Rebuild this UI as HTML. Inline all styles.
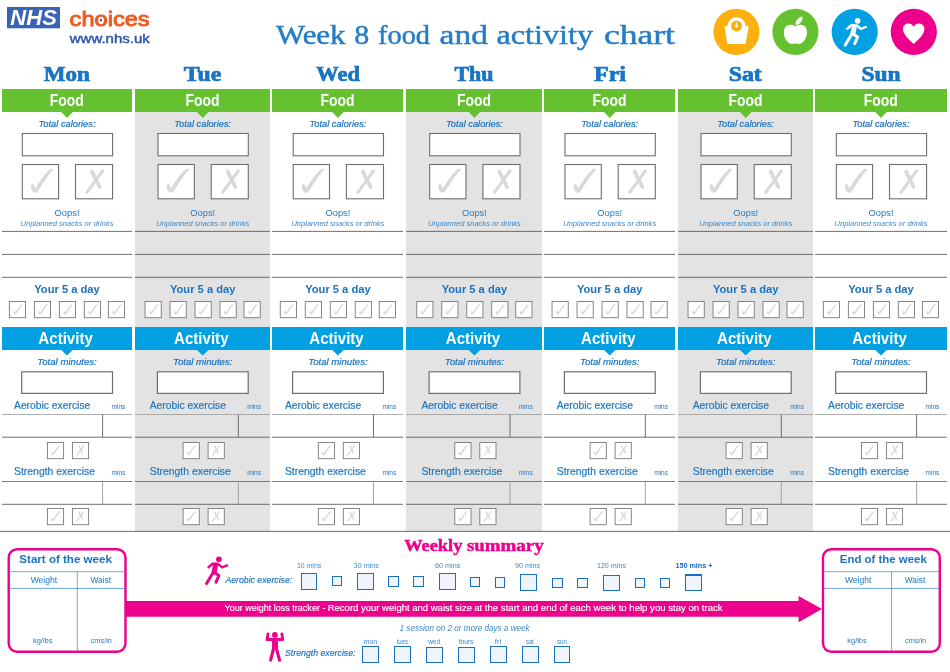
<!DOCTYPE html>
<html lang="en">
<head>
<meta charset="utf-8">
<title>Week 8 food and activity chart</title>
<style>
html,body{margin:0;padding:0;background:#fff;}
body{width:950px;height:672px;overflow:hidden;font-family:"Liberation Sans",sans-serif;}
svg{display:block;will-change:transform;}
</style>
</head>
<body>
<svg width="950" height="672" viewBox="0 0 950 672">
<defs>
<path id="tick" fill="#d9d9d9" d="M9.4 21 C8.6 22.6 9.6 26.6 11.6 28.3 C13 29.3 15 28.7 16.2 27 C20.5 20.5 26 11.5 31.9 5 C30 4.5 28.4 5 27 6.2 C22 11 17 18.6 13.7 24.3 C13.1 22.8 12.5 21.2 11.7 20.4 C10.9 19.8 9.8 20.2 9.4 21 Z"/>
<g id="cross" fill="none" stroke="#d9d9d9" stroke-linecap="round"><path d="M17 7.6 L24.6 23" stroke-width="3.7"/><path d="M27.6 6.8 L12 28.4" stroke-width="3.1"/></g>
<g id="runner" fill="none" stroke="currentColor" stroke-linecap="round" stroke-linejoin="round"><circle cx="857.6" cy="20.8" r="2.85" fill="currentColor" stroke="none"/><path d="M854.3 26.4 L852.9 33.4" stroke-width="5.1"/><path d="M851.6 25 L847.2 28.8" stroke-width="2.4"/><path d="M856.8 25.4 L860.7 28.9 L865.8 27" stroke-width="2.4"/><path d="M851.9 34 L845.2 45.1" stroke-width="3"/><path d="M853.6 34.4 L857.7 37 L854.7 43.7" stroke-width="3"/></g>
</defs>
<rect x="7" y="7" width="53" height="21.3" fill="#3963b5"/>
<text x="33.6" y="25.3" font-family="Liberation Sans" font-size="22" fill="#fff" text-anchor="middle" font-weight="bold" font-style="italic" textLength="46.5" lengthAdjust="spacingAndGlyphs">NHS</text>
<text x="69.6" y="25.5" font-family="Liberation Sans" font-size="21" fill="#f1591f" text-anchor="start" textLength="80" lengthAdjust="spacingAndGlyphs" stroke="#f1591f" stroke-width="0.9">choices</text>
<circle cx="101" cy="20.2" r="1.1" fill="#a0122a"/>
<text x="69.8" y="43.4" font-family="Liberation Sans" font-size="13" fill="#2c57a7" text-anchor="start" textLength="80" lengthAdjust="spacingAndGlyphs" stroke="#2c57a7" stroke-width="0.45">www.nhs.uk</text>
<text x="276" y="44.2" font-family="Liberation Serif" font-size="26.5" fill="#257cc6" text-anchor="start" textLength="69.5" lengthAdjust="spacingAndGlyphs" stroke="#257cc6" stroke-width="0.45">Week</text>
<text x="354.2" y="44.2" font-family="Liberation Serif" font-size="26.5" fill="#257cc6" text-anchor="start" textLength="15" lengthAdjust="spacingAndGlyphs" stroke="#257cc6" stroke-width="0.45">8</text>
<text x="378" y="44.2" font-family="Liberation Serif" font-size="26.5" fill="#257cc6" text-anchor="start" textLength="52" lengthAdjust="spacingAndGlyphs" stroke="#257cc6" stroke-width="0.45">food</text>
<text x="439.6" y="44.2" font-family="Liberation Serif" font-size="26.5" fill="#257cc6" text-anchor="start" textLength="48.3" lengthAdjust="spacingAndGlyphs" stroke="#257cc6" stroke-width="0.45">and</text>
<text x="496.6" y="44.2" font-family="Liberation Serif" font-size="26.5" fill="#257cc6" text-anchor="start" textLength="96.4" lengthAdjust="spacingAndGlyphs" stroke="#257cc6" stroke-width="0.45">activity</text>
<text x="604" y="44.2" font-family="Liberation Serif" font-size="26.5" fill="#257cc6" text-anchor="start" textLength="71" lengthAdjust="spacingAndGlyphs" stroke="#257cc6" stroke-width="0.45">chart</text>
<circle cx="736.4" cy="31.8" r="23.1" fill="#fbb00f"/>
<circle cx="795.4" cy="31.8" r="23.1" fill="#65c12f"/>
<circle cx="854.7" cy="31.8" r="23.1" fill="#00a0e3"/>
<circle cx="913.8" cy="31.8" r="23.1" fill="#ec008c"/>
<circle cx="736.55" cy="25.9" r="8.85" fill="#fff"/>
<path fill="#fff" stroke="#fff" stroke-width="2.4" stroke-linejoin="round" d="M725.9 27 L747.3 27 L744.6 42.8 L728.4 42.8 Z"/>
<circle cx="736.5" cy="25.9" r="5.5" fill="#fbb00f"/>
<path fill="#fff" d="M736.5 21.6 L737.6 25.6 A1.35 1.35 0 1 1 735.4 25.6 Z"/>
<path fill="#fff" d="M795.4 26.6 C792.5 24.2 787.2 24 785 27.6 C782.4 31.8 784.2 39.4 788.6 42.8 C790.8 44.5 793.4 44.3 795.4 43.3 C797.4 44.3 800 44.5 802.2 42.8 C806.6 39.4 808.4 31.8 805.8 27.6 C803.6 24 798.3 24.2 795.4 26.6 Z"/>
<path fill="#fff" d="M795.6 25.2 C795 21.5 798 17.5 802.4 16.6 C803 20.6 800.2 24.6 795.6 25.2 Z"/>
<use href="#runner" color="#fff"/>
<path fill="#fff" d="M913.7 44 C908 38.6 903 34 903 29.2 C903 25.6 905.6 23.5 908.4 23.5 C910.6 23.5 912.6 24.7 913.7 26.8 C914.8 24.7 916.8 23.5 919 23.5 C921.8 23.5 924.4 25.6 924.4 29.2 C924.4 34 919.4 38.6 913.7 44 Z"/>
<text x="66.7" y="80.9" font-family="Liberation Serif" font-size="20" fill="#1874c4" text-anchor="middle" font-weight="bold" textLength="46" lengthAdjust="spacingAndGlyphs" stroke="#1874c4" stroke-width="0.7">Mon</text>
<rect x="2" y="89" width="130" height="23" fill="#65c12f"/>
<path d="M61 111.8 L73 111.8 L67 118 Z" fill="#65c12f"/>
<text x="66.7" y="106" font-family="Liberation Sans" font-size="16.8" fill="#fff" text-anchor="middle" font-weight="bold" textLength="34" lengthAdjust="spacingAndGlyphs">Food</text>
<text x="67" y="127" font-family="Liberation Sans" font-size="9" fill="#1a72c0" text-anchor="middle" font-style="italic" textLength="57" lengthAdjust="spacingAndGlyphs" stroke="#1a72c0" stroke-width="0.2">Total calories:</text>
<rect x="22.299999999999997" y="133.5" width="90.3" height="22.3" fill="#fff" stroke="#6e6e6e" stroke-width="1.1"/>
<rect x="22.299999999999997" y="164.5" width="36.3" height="34.3" fill="#fff" stroke="#6e6e6e" stroke-width="1.1"/>
<rect x="75.5" y="164.5" width="37.1" height="34.3" fill="#fff" stroke="#6e6e6e" stroke-width="1.1"/>
<use href="#tick" transform="translate(21.799999999999997 164) scale(1)"/>
<use href="#cross" transform="translate(75 164) scale(1)"/>
<text x="67" y="216" font-family="Liberation Sans" font-size="9" fill="#1f78c1" text-anchor="middle" textLength="25" lengthAdjust="spacingAndGlyphs">Oops!</text>
<text x="67" y="225.6" font-family="Liberation Sans" font-size="7.3" fill="#3b87c9" text-anchor="middle" font-style="italic" textLength="93" lengthAdjust="spacingAndGlyphs">Unplanned snacks or drinks</text>
<line x1="2" y1="231.4" x2="132" y2="231.4" stroke="#5f5f5f" stroke-width="0.9"/>
<line x1="2" y1="254.4" x2="132" y2="254.4" stroke="#5f5f5f" stroke-width="0.9"/>
<line x1="2" y1="277.3" x2="132" y2="277.3" stroke="#5f5f5f" stroke-width="0.9"/>
<text x="67" y="292.9" font-family="Liberation Sans" font-size="10.8" fill="#1b72c0" text-anchor="middle" font-weight="bold" textLength="65.5" lengthAdjust="spacingAndGlyphs">Your 5 a day</text>
<rect x="9.350000000000003" y="301.5" width="16.2" height="16.2" fill="#fff" stroke="#7a7a7a" stroke-width="0.9"/>
<use href="#tick" transform="translate(9.500000000000002 302.35) scale(0.42)"/>
<rect x="34.35" y="301.5" width="16.2" height="16.2" fill="#fff" stroke="#7a7a7a" stroke-width="0.9"/>
<use href="#tick" transform="translate(34.50000000000001 302.35) scale(0.42)"/>
<rect x="59.35" y="301.5" width="16.2" height="16.2" fill="#fff" stroke="#7a7a7a" stroke-width="0.9"/>
<use href="#tick" transform="translate(59.50000000000001 302.35) scale(0.42)"/>
<rect x="84.30000000000001" y="301.5" width="16.2" height="16.2" fill="#fff" stroke="#7a7a7a" stroke-width="0.9"/>
<use href="#tick" transform="translate(84.45 302.35) scale(0.42)"/>
<rect x="108.35000000000001" y="301.5" width="16.2" height="16.2" fill="#fff" stroke="#7a7a7a" stroke-width="0.9"/>
<use href="#tick" transform="translate(108.5 302.35) scale(0.42)"/>
<rect x="2" y="327" width="130" height="23" fill="#00a0e3"/>
<path d="M61 349.8 L73 349.8 L67 355.4 Z" fill="#00a0e3"/>
<text x="65.6" y="344" font-family="Liberation Sans" font-size="17" fill="#fff" text-anchor="middle" font-weight="bold" textLength="54.5" lengthAdjust="spacingAndGlyphs">Activity</text>
<text x="67" y="364.6" font-family="Liberation Sans" font-size="9" fill="#1a72c0" text-anchor="middle" font-style="italic" textLength="59.5" lengthAdjust="spacingAndGlyphs" stroke="#1a72c0" stroke-width="0.2">Total minutes:</text>
<rect x="21.700000000000003" y="371.8" width="90.8" height="21.6" fill="#fff" stroke="#6e6e6e" stroke-width="1.2"/>
<text x="14" y="409" font-family="Liberation Sans" font-size="10.2" fill="#1f78c1" text-anchor="start" textLength="76.3" lengthAdjust="spacingAndGlyphs" stroke="#1f78c1" stroke-width="0.2">Aerobic exercise</text>
<text x="111.5" y="409" font-family="Liberation Sans" font-size="6.4" fill="#1f78c1" text-anchor="start" textLength="13.8" lengthAdjust="spacingAndGlyphs">mins</text>
<line x1="2" y1="414.5" x2="132" y2="414.5" stroke="#9a9a9a" stroke-width="0.8"/>
<line x1="2" y1="437.2" x2="132" y2="437.2" stroke="#5f5f5f" stroke-width="0.9"/>
<line x1="102.6" y1="414.5" x2="102.6" y2="437.2" stroke="#5f5f5f" stroke-width="0.9"/>
<rect x="47.4" y="442.5" width="16.2" height="16.2" fill="#fff" stroke="#7a7a7a" stroke-width="0.9"/>
<rect x="72.4" y="442.5" width="16.2" height="16.2" fill="#fff" stroke="#7a7a7a" stroke-width="0.9"/>
<use href="#tick" transform="translate(47.25 443.25) scale(0.42)"/>
<use href="#cross" transform="translate(71.75 442.95) scale(0.43)"/>
<text x="14" y="475.3" font-family="Liberation Sans" font-size="10.2" fill="#1f78c1" text-anchor="start" textLength="81" lengthAdjust="spacingAndGlyphs" stroke="#1f78c1" stroke-width="0.2">Strength exercise</text>
<text x="111.5" y="475.3" font-family="Liberation Sans" font-size="6.4" fill="#1f78c1" text-anchor="start" textLength="13.8" lengthAdjust="spacingAndGlyphs">mins</text>
<line x1="2" y1="481.5" x2="132" y2="481.5" stroke="#5f5f5f" stroke-width="0.8"/>
<line x1="2" y1="504.3" x2="132" y2="504.3" stroke="#5f5f5f" stroke-width="0.9"/>
<line x1="102.6" y1="481.5" x2="102.6" y2="504.3" stroke="#9a9a9a" stroke-width="0.9"/>
<rect x="47.4" y="508.5" width="16.2" height="16.2" fill="#fff" stroke="#7a7a7a" stroke-width="0.9"/>
<rect x="72.4" y="508.5" width="16.2" height="16.2" fill="#fff" stroke="#7a7a7a" stroke-width="0.9"/>
<use href="#tick" transform="translate(47.25 509.25) scale(0.42)"/>
<use href="#cross" transform="translate(71.75 508.95) scale(0.43)"/>
<rect x="135" y="112" width="135" height="419" fill="#e3e3e3"/>
<text x="202.5" y="80.9" font-family="Liberation Serif" font-size="20" fill="#1874c4" text-anchor="middle" font-weight="bold" textLength="37.5" lengthAdjust="spacingAndGlyphs" stroke="#1874c4" stroke-width="0.7">Tue</text>
<rect x="135" y="89" width="135" height="23" fill="#65c12f"/>
<path d="M196.7 111.8 L208.7 111.8 L202.7 118 Z" fill="#65c12f"/>
<text x="202.39999999999998" y="106" font-family="Liberation Sans" font-size="16.8" fill="#fff" text-anchor="middle" font-weight="bold" textLength="34" lengthAdjust="spacingAndGlyphs">Food</text>
<text x="202.7" y="127" font-family="Liberation Sans" font-size="9" fill="#1a72c0" text-anchor="middle" font-style="italic" textLength="57" lengthAdjust="spacingAndGlyphs" stroke="#1a72c0" stroke-width="0.2">Total calories:</text>
<rect x="158.0" y="133.5" width="90.3" height="22.3" fill="#fff" stroke="#6e6e6e" stroke-width="1.1"/>
<rect x="158.0" y="164.5" width="36.3" height="34.3" fill="#fff" stroke="#6e6e6e" stroke-width="1.1"/>
<rect x="211.2" y="164.5" width="37.1" height="34.3" fill="#fff" stroke="#6e6e6e" stroke-width="1.1"/>
<use href="#tick" transform="translate(157.5 164) scale(1)"/>
<use href="#cross" transform="translate(210.7 164) scale(1)"/>
<text x="202.7" y="216" font-family="Liberation Sans" font-size="9" fill="#1f78c1" text-anchor="middle" textLength="25" lengthAdjust="spacingAndGlyphs">Oops!</text>
<text x="202.7" y="225.6" font-family="Liberation Sans" font-size="7.3" fill="#3b87c9" text-anchor="middle" font-style="italic" textLength="93" lengthAdjust="spacingAndGlyphs">Unplanned snacks or drinks</text>
<line x1="135" y1="231.4" x2="270" y2="231.4" stroke="#5f5f5f" stroke-width="0.9"/>
<line x1="135" y1="254.4" x2="270" y2="254.4" stroke="#5f5f5f" stroke-width="0.9"/>
<line x1="135" y1="277.3" x2="270" y2="277.3" stroke="#5f5f5f" stroke-width="0.9"/>
<text x="202.7" y="292.9" font-family="Liberation Sans" font-size="10.8" fill="#1b72c0" text-anchor="middle" font-weight="bold" textLength="65.5" lengthAdjust="spacingAndGlyphs">Your 5 a day</text>
<rect x="145.04999999999998" y="301.5" width="16.2" height="16.2" fill="#fff" stroke="#7a7a7a" stroke-width="0.9"/>
<use href="#tick" transform="translate(145.19999999999996 302.35) scale(0.42)"/>
<rect x="170.04999999999998" y="301.5" width="16.2" height="16.2" fill="#fff" stroke="#7a7a7a" stroke-width="0.9"/>
<use href="#tick" transform="translate(170.19999999999996 302.35) scale(0.42)"/>
<rect x="195.04999999999998" y="301.5" width="16.2" height="16.2" fill="#fff" stroke="#7a7a7a" stroke-width="0.9"/>
<use href="#tick" transform="translate(195.19999999999996 302.35) scale(0.42)"/>
<rect x="220.0" y="301.5" width="16.2" height="16.2" fill="#fff" stroke="#7a7a7a" stroke-width="0.9"/>
<use href="#tick" transform="translate(220.14999999999998 302.35) scale(0.42)"/>
<rect x="244.04999999999998" y="301.5" width="16.2" height="16.2" fill="#fff" stroke="#7a7a7a" stroke-width="0.9"/>
<use href="#tick" transform="translate(244.19999999999996 302.35) scale(0.42)"/>
<rect x="135" y="327" width="135" height="23" fill="#00a0e3"/>
<path d="M196.7 349.8 L208.7 349.8 L202.7 355.4 Z" fill="#00a0e3"/>
<text x="201.29999999999998" y="344" font-family="Liberation Sans" font-size="17" fill="#fff" text-anchor="middle" font-weight="bold" textLength="54.5" lengthAdjust="spacingAndGlyphs">Activity</text>
<text x="202.7" y="364.6" font-family="Liberation Sans" font-size="9" fill="#1a72c0" text-anchor="middle" font-style="italic" textLength="59.5" lengthAdjust="spacingAndGlyphs" stroke="#1a72c0" stroke-width="0.2">Total minutes:</text>
<rect x="157.39999999999998" y="371.8" width="90.8" height="21.6" fill="#fff" stroke="#6e6e6e" stroke-width="1.2"/>
<text x="149.7" y="409" font-family="Liberation Sans" font-size="10.2" fill="#1f78c1" text-anchor="start" textLength="76.3" lengthAdjust="spacingAndGlyphs" stroke="#1f78c1" stroke-width="0.2">Aerobic exercise</text>
<text x="247.2" y="409" font-family="Liberation Sans" font-size="6.4" fill="#1f78c1" text-anchor="start" textLength="13.8" lengthAdjust="spacingAndGlyphs">mins</text>
<line x1="135" y1="414.5" x2="270" y2="414.5" stroke="#9a9a9a" stroke-width="0.8"/>
<line x1="135" y1="437.2" x2="270" y2="437.2" stroke="#5f5f5f" stroke-width="0.9"/>
<line x1="238.29999999999998" y1="414.5" x2="238.29999999999998" y2="437.2" stroke="#5f5f5f" stroke-width="0.9"/>
<rect x="183.1" y="442.5" width="16.2" height="16.2" fill="#fff" stroke="#7a7a7a" stroke-width="0.9"/>
<rect x="208.1" y="442.5" width="16.2" height="16.2" fill="#fff" stroke="#7a7a7a" stroke-width="0.9"/>
<use href="#tick" transform="translate(182.95 443.25) scale(0.42)"/>
<use href="#cross" transform="translate(207.45 442.95) scale(0.43)"/>
<text x="149.7" y="475.3" font-family="Liberation Sans" font-size="10.2" fill="#1f78c1" text-anchor="start" textLength="81" lengthAdjust="spacingAndGlyphs" stroke="#1f78c1" stroke-width="0.2">Strength exercise</text>
<text x="247.2" y="475.3" font-family="Liberation Sans" font-size="6.4" fill="#1f78c1" text-anchor="start" textLength="13.8" lengthAdjust="spacingAndGlyphs">mins</text>
<line x1="135" y1="481.5" x2="270" y2="481.5" stroke="#5f5f5f" stroke-width="0.8"/>
<line x1="135" y1="504.3" x2="270" y2="504.3" stroke="#5f5f5f" stroke-width="0.9"/>
<line x1="238.29999999999998" y1="481.5" x2="238.29999999999998" y2="504.3" stroke="#9a9a9a" stroke-width="0.9"/>
<rect x="183.1" y="508.5" width="16.2" height="16.2" fill="#fff" stroke="#7a7a7a" stroke-width="0.9"/>
<rect x="208.1" y="508.5" width="16.2" height="16.2" fill="#fff" stroke="#7a7a7a" stroke-width="0.9"/>
<use href="#tick" transform="translate(182.95 509.25) scale(0.42)"/>
<use href="#cross" transform="translate(207.45 508.95) scale(0.43)"/>
<text x="338.1" y="80.9" font-family="Liberation Serif" font-size="20" fill="#1874c4" text-anchor="middle" font-weight="bold" textLength="43.5" lengthAdjust="spacingAndGlyphs" stroke="#1874c4" stroke-width="0.7">Wed</text>
<rect x="272" y="89" width="131" height="23" fill="#65c12f"/>
<path d="M331.9 111.8 L343.9 111.8 L337.9 118 Z" fill="#65c12f"/>
<text x="337.59999999999997" y="106" font-family="Liberation Sans" font-size="16.8" fill="#fff" text-anchor="middle" font-weight="bold" textLength="34" lengthAdjust="spacingAndGlyphs">Food</text>
<text x="337.9" y="127" font-family="Liberation Sans" font-size="9" fill="#1a72c0" text-anchor="middle" font-style="italic" textLength="57" lengthAdjust="spacingAndGlyphs" stroke="#1a72c0" stroke-width="0.2">Total calories:</text>
<rect x="293.2" y="133.5" width="90.3" height="22.3" fill="#fff" stroke="#6e6e6e" stroke-width="1.1"/>
<rect x="293.2" y="164.5" width="36.3" height="34.3" fill="#fff" stroke="#6e6e6e" stroke-width="1.1"/>
<rect x="346.4" y="164.5" width="37.1" height="34.3" fill="#fff" stroke="#6e6e6e" stroke-width="1.1"/>
<use href="#tick" transform="translate(292.7 164) scale(1)"/>
<use href="#cross" transform="translate(345.9 164) scale(1)"/>
<text x="337.9" y="216" font-family="Liberation Sans" font-size="9" fill="#1f78c1" text-anchor="middle" textLength="25" lengthAdjust="spacingAndGlyphs">Oops!</text>
<text x="337.9" y="225.6" font-family="Liberation Sans" font-size="7.3" fill="#3b87c9" text-anchor="middle" font-style="italic" textLength="93" lengthAdjust="spacingAndGlyphs">Unplanned snacks or drinks</text>
<line x1="272" y1="231.4" x2="403" y2="231.4" stroke="#5f5f5f" stroke-width="0.9"/>
<line x1="272" y1="254.4" x2="403" y2="254.4" stroke="#5f5f5f" stroke-width="0.9"/>
<line x1="272" y1="277.3" x2="403" y2="277.3" stroke="#5f5f5f" stroke-width="0.9"/>
<text x="337.9" y="292.9" font-family="Liberation Sans" font-size="10.8" fill="#1b72c0" text-anchor="middle" font-weight="bold" textLength="65.5" lengthAdjust="spacingAndGlyphs">Your 5 a day</text>
<rect x="280.24999999999994" y="301.5" width="16.2" height="16.2" fill="#fff" stroke="#7a7a7a" stroke-width="0.9"/>
<use href="#tick" transform="translate(280.4 302.35) scale(0.42)"/>
<rect x="305.24999999999994" y="301.5" width="16.2" height="16.2" fill="#fff" stroke="#7a7a7a" stroke-width="0.9"/>
<use href="#tick" transform="translate(305.4 302.35) scale(0.42)"/>
<rect x="330.24999999999994" y="301.5" width="16.2" height="16.2" fill="#fff" stroke="#7a7a7a" stroke-width="0.9"/>
<use href="#tick" transform="translate(330.4 302.35) scale(0.42)"/>
<rect x="355.19999999999993" y="301.5" width="16.2" height="16.2" fill="#fff" stroke="#7a7a7a" stroke-width="0.9"/>
<use href="#tick" transform="translate(355.34999999999997 302.35) scale(0.42)"/>
<rect x="379.24999999999994" y="301.5" width="16.2" height="16.2" fill="#fff" stroke="#7a7a7a" stroke-width="0.9"/>
<use href="#tick" transform="translate(379.4 302.35) scale(0.42)"/>
<rect x="272" y="327" width="131" height="23" fill="#00a0e3"/>
<path d="M331.9 349.8 L343.9 349.8 L337.9 355.4 Z" fill="#00a0e3"/>
<text x="336.5" y="344" font-family="Liberation Sans" font-size="17" fill="#fff" text-anchor="middle" font-weight="bold" textLength="54.5" lengthAdjust="spacingAndGlyphs">Activity</text>
<text x="337.9" y="364.6" font-family="Liberation Sans" font-size="9" fill="#1a72c0" text-anchor="middle" font-style="italic" textLength="59.5" lengthAdjust="spacingAndGlyphs" stroke="#1a72c0" stroke-width="0.2">Total minutes:</text>
<rect x="292.59999999999997" y="371.8" width="90.8" height="21.6" fill="#fff" stroke="#6e6e6e" stroke-width="1.2"/>
<text x="284.9" y="409" font-family="Liberation Sans" font-size="10.2" fill="#1f78c1" text-anchor="start" textLength="76.3" lengthAdjust="spacingAndGlyphs" stroke="#1f78c1" stroke-width="0.2">Aerobic exercise</text>
<text x="382.4" y="409" font-family="Liberation Sans" font-size="6.4" fill="#1f78c1" text-anchor="start" textLength="13.8" lengthAdjust="spacingAndGlyphs">mins</text>
<line x1="272" y1="414.5" x2="403" y2="414.5" stroke="#9a9a9a" stroke-width="0.8"/>
<line x1="272" y1="437.2" x2="403" y2="437.2" stroke="#5f5f5f" stroke-width="0.9"/>
<line x1="373.5" y1="414.5" x2="373.5" y2="437.2" stroke="#5f5f5f" stroke-width="0.9"/>
<rect x="318.29999999999995" y="442.5" width="16.2" height="16.2" fill="#fff" stroke="#7a7a7a" stroke-width="0.9"/>
<rect x="343.29999999999995" y="442.5" width="16.2" height="16.2" fill="#fff" stroke="#7a7a7a" stroke-width="0.9"/>
<use href="#tick" transform="translate(318.15 443.25) scale(0.42)"/>
<use href="#cross" transform="translate(342.65 442.95) scale(0.43)"/>
<text x="284.9" y="475.3" font-family="Liberation Sans" font-size="10.2" fill="#1f78c1" text-anchor="start" textLength="81" lengthAdjust="spacingAndGlyphs" stroke="#1f78c1" stroke-width="0.2">Strength exercise</text>
<text x="382.4" y="475.3" font-family="Liberation Sans" font-size="6.4" fill="#1f78c1" text-anchor="start" textLength="13.8" lengthAdjust="spacingAndGlyphs">mins</text>
<line x1="272" y1="481.5" x2="403" y2="481.5" stroke="#5f5f5f" stroke-width="0.8"/>
<line x1="272" y1="504.3" x2="403" y2="504.3" stroke="#5f5f5f" stroke-width="0.9"/>
<line x1="373.5" y1="481.5" x2="373.5" y2="504.3" stroke="#9a9a9a" stroke-width="0.9"/>
<rect x="318.29999999999995" y="508.5" width="16.2" height="16.2" fill="#fff" stroke="#7a7a7a" stroke-width="0.9"/>
<rect x="343.29999999999995" y="508.5" width="16.2" height="16.2" fill="#fff" stroke="#7a7a7a" stroke-width="0.9"/>
<use href="#tick" transform="translate(318.15 509.25) scale(0.42)"/>
<use href="#cross" transform="translate(342.65 508.95) scale(0.43)"/>
<rect x="406" y="112" width="136" height="419" fill="#e3e3e3"/>
<text x="473.9" y="80.9" font-family="Liberation Serif" font-size="20" fill="#1874c4" text-anchor="middle" font-weight="bold" textLength="39" lengthAdjust="spacingAndGlyphs" stroke="#1874c4" stroke-width="0.7">Thu</text>
<rect x="406" y="89" width="136" height="23" fill="#65c12f"/>
<path d="M468.4 111.8 L480.4 111.8 L474.4 118 Z" fill="#65c12f"/>
<text x="474.09999999999997" y="106" font-family="Liberation Sans" font-size="16.8" fill="#fff" text-anchor="middle" font-weight="bold" textLength="34" lengthAdjust="spacingAndGlyphs">Food</text>
<text x="474.4" y="127" font-family="Liberation Sans" font-size="9" fill="#1a72c0" text-anchor="middle" font-style="italic" textLength="57" lengthAdjust="spacingAndGlyphs" stroke="#1a72c0" stroke-width="0.2">Total calories:</text>
<rect x="429.7" y="133.5" width="90.3" height="22.3" fill="#fff" stroke="#6e6e6e" stroke-width="1.1"/>
<rect x="429.7" y="164.5" width="36.3" height="34.3" fill="#fff" stroke="#6e6e6e" stroke-width="1.1"/>
<rect x="482.9" y="164.5" width="37.1" height="34.3" fill="#fff" stroke="#6e6e6e" stroke-width="1.1"/>
<use href="#tick" transform="translate(429.2 164) scale(1)"/>
<use href="#cross" transform="translate(482.4 164) scale(1)"/>
<text x="474.4" y="216" font-family="Liberation Sans" font-size="9" fill="#1f78c1" text-anchor="middle" textLength="25" lengthAdjust="spacingAndGlyphs">Oops!</text>
<text x="474.4" y="225.6" font-family="Liberation Sans" font-size="7.3" fill="#3b87c9" text-anchor="middle" font-style="italic" textLength="93" lengthAdjust="spacingAndGlyphs">Unplanned snacks or drinks</text>
<line x1="406" y1="231.4" x2="542" y2="231.4" stroke="#5f5f5f" stroke-width="0.9"/>
<line x1="406" y1="254.4" x2="542" y2="254.4" stroke="#5f5f5f" stroke-width="0.9"/>
<line x1="406" y1="277.3" x2="542" y2="277.3" stroke="#5f5f5f" stroke-width="0.9"/>
<text x="474.4" y="292.9" font-family="Liberation Sans" font-size="10.8" fill="#1b72c0" text-anchor="middle" font-weight="bold" textLength="65.5" lengthAdjust="spacingAndGlyphs">Your 5 a day</text>
<rect x="416.74999999999994" y="301.5" width="16.2" height="16.2" fill="#fff" stroke="#7a7a7a" stroke-width="0.9"/>
<use href="#tick" transform="translate(416.9 302.35) scale(0.42)"/>
<rect x="441.74999999999994" y="301.5" width="16.2" height="16.2" fill="#fff" stroke="#7a7a7a" stroke-width="0.9"/>
<use href="#tick" transform="translate(441.9 302.35) scale(0.42)"/>
<rect x="466.74999999999994" y="301.5" width="16.2" height="16.2" fill="#fff" stroke="#7a7a7a" stroke-width="0.9"/>
<use href="#tick" transform="translate(466.9 302.35) scale(0.42)"/>
<rect x="491.69999999999993" y="301.5" width="16.2" height="16.2" fill="#fff" stroke="#7a7a7a" stroke-width="0.9"/>
<use href="#tick" transform="translate(491.84999999999997 302.35) scale(0.42)"/>
<rect x="515.75" y="301.5" width="16.2" height="16.2" fill="#fff" stroke="#7a7a7a" stroke-width="0.9"/>
<use href="#tick" transform="translate(515.9000000000001 302.35) scale(0.42)"/>
<rect x="406" y="327" width="136" height="23" fill="#00a0e3"/>
<path d="M468.4 349.8 L480.4 349.8 L474.4 355.4 Z" fill="#00a0e3"/>
<text x="473.0" y="344" font-family="Liberation Sans" font-size="17" fill="#fff" text-anchor="middle" font-weight="bold" textLength="54.5" lengthAdjust="spacingAndGlyphs">Activity</text>
<text x="474.4" y="364.6" font-family="Liberation Sans" font-size="9" fill="#1a72c0" text-anchor="middle" font-style="italic" textLength="59.5" lengthAdjust="spacingAndGlyphs" stroke="#1a72c0" stroke-width="0.2">Total minutes:</text>
<rect x="429.09999999999997" y="371.8" width="90.8" height="21.6" fill="#fff" stroke="#6e6e6e" stroke-width="1.2"/>
<text x="421.4" y="409" font-family="Liberation Sans" font-size="10.2" fill="#1f78c1" text-anchor="start" textLength="76.3" lengthAdjust="spacingAndGlyphs" stroke="#1f78c1" stroke-width="0.2">Aerobic exercise</text>
<text x="518.9" y="409" font-family="Liberation Sans" font-size="6.4" fill="#1f78c1" text-anchor="start" textLength="13.8" lengthAdjust="spacingAndGlyphs">mins</text>
<line x1="406" y1="414.5" x2="542" y2="414.5" stroke="#9a9a9a" stroke-width="0.8"/>
<line x1="406" y1="437.2" x2="542" y2="437.2" stroke="#5f5f5f" stroke-width="0.9"/>
<line x1="510.0" y1="414.5" x2="510.0" y2="437.2" stroke="#5f5f5f" stroke-width="0.9"/>
<rect x="454.79999999999995" y="442.5" width="16.2" height="16.2" fill="#fff" stroke="#7a7a7a" stroke-width="0.9"/>
<rect x="479.79999999999995" y="442.5" width="16.2" height="16.2" fill="#fff" stroke="#7a7a7a" stroke-width="0.9"/>
<use href="#tick" transform="translate(454.65 443.25) scale(0.42)"/>
<use href="#cross" transform="translate(479.15 442.95) scale(0.43)"/>
<text x="421.4" y="475.3" font-family="Liberation Sans" font-size="10.2" fill="#1f78c1" text-anchor="start" textLength="81" lengthAdjust="spacingAndGlyphs" stroke="#1f78c1" stroke-width="0.2">Strength exercise</text>
<text x="518.9" y="475.3" font-family="Liberation Sans" font-size="6.4" fill="#1f78c1" text-anchor="start" textLength="13.8" lengthAdjust="spacingAndGlyphs">mins</text>
<line x1="406" y1="481.5" x2="542" y2="481.5" stroke="#5f5f5f" stroke-width="0.8"/>
<line x1="406" y1="504.3" x2="542" y2="504.3" stroke="#5f5f5f" stroke-width="0.9"/>
<line x1="510.0" y1="481.5" x2="510.0" y2="504.3" stroke="#9a9a9a" stroke-width="0.9"/>
<rect x="454.79999999999995" y="508.5" width="16.2" height="16.2" fill="#fff" stroke="#7a7a7a" stroke-width="0.9"/>
<rect x="479.79999999999995" y="508.5" width="16.2" height="16.2" fill="#fff" stroke="#7a7a7a" stroke-width="0.9"/>
<use href="#tick" transform="translate(454.65 509.25) scale(0.42)"/>
<use href="#cross" transform="translate(479.15 508.95) scale(0.43)"/>
<text x="610" y="80.9" font-family="Liberation Serif" font-size="20" fill="#1874c4" text-anchor="middle" font-weight="bold" textLength="32" lengthAdjust="spacingAndGlyphs" stroke="#1874c4" stroke-width="0.7">Fri</text>
<rect x="544" y="89" width="131" height="23" fill="#65c12f"/>
<path d="M603.7 111.8 L615.7 111.8 L609.7 118 Z" fill="#65c12f"/>
<text x="609.4000000000001" y="106" font-family="Liberation Sans" font-size="16.8" fill="#fff" text-anchor="middle" font-weight="bold" textLength="34" lengthAdjust="spacingAndGlyphs">Food</text>
<text x="609.7" y="127" font-family="Liberation Sans" font-size="9" fill="#1a72c0" text-anchor="middle" font-style="italic" textLength="57" lengthAdjust="spacingAndGlyphs" stroke="#1a72c0" stroke-width="0.2">Total calories:</text>
<rect x="565.0" y="133.5" width="90.3" height="22.3" fill="#fff" stroke="#6e6e6e" stroke-width="1.1"/>
<rect x="565.0" y="164.5" width="36.3" height="34.3" fill="#fff" stroke="#6e6e6e" stroke-width="1.1"/>
<rect x="618.2" y="164.5" width="37.1" height="34.3" fill="#fff" stroke="#6e6e6e" stroke-width="1.1"/>
<use href="#tick" transform="translate(564.5 164) scale(1)"/>
<use href="#cross" transform="translate(617.7 164) scale(1)"/>
<text x="609.7" y="216" font-family="Liberation Sans" font-size="9" fill="#1f78c1" text-anchor="middle" textLength="25" lengthAdjust="spacingAndGlyphs">Oops!</text>
<text x="609.7" y="225.6" font-family="Liberation Sans" font-size="7.3" fill="#3b87c9" text-anchor="middle" font-style="italic" textLength="93" lengthAdjust="spacingAndGlyphs">Unplanned snacks or drinks</text>
<line x1="544" y1="231.4" x2="675" y2="231.4" stroke="#5f5f5f" stroke-width="0.9"/>
<line x1="544" y1="254.4" x2="675" y2="254.4" stroke="#5f5f5f" stroke-width="0.9"/>
<line x1="544" y1="277.3" x2="675" y2="277.3" stroke="#5f5f5f" stroke-width="0.9"/>
<text x="609.7" y="292.9" font-family="Liberation Sans" font-size="10.8" fill="#1b72c0" text-anchor="middle" font-weight="bold" textLength="65.5" lengthAdjust="spacingAndGlyphs">Your 5 a day</text>
<rect x="552.0500000000001" y="301.5" width="16.2" height="16.2" fill="#fff" stroke="#7a7a7a" stroke-width="0.9"/>
<use href="#tick" transform="translate(552.2000000000002 302.35) scale(0.42)"/>
<rect x="577.0500000000001" y="301.5" width="16.2" height="16.2" fill="#fff" stroke="#7a7a7a" stroke-width="0.9"/>
<use href="#tick" transform="translate(577.2000000000002 302.35) scale(0.42)"/>
<rect x="602.0500000000001" y="301.5" width="16.2" height="16.2" fill="#fff" stroke="#7a7a7a" stroke-width="0.9"/>
<use href="#tick" transform="translate(602.2000000000002 302.35) scale(0.42)"/>
<rect x="627.0" y="301.5" width="16.2" height="16.2" fill="#fff" stroke="#7a7a7a" stroke-width="0.9"/>
<use href="#tick" transform="translate(627.1500000000001 302.35) scale(0.42)"/>
<rect x="651.0500000000001" y="301.5" width="16.2" height="16.2" fill="#fff" stroke="#7a7a7a" stroke-width="0.9"/>
<use href="#tick" transform="translate(651.2000000000002 302.35) scale(0.42)"/>
<rect x="544" y="327" width="131" height="23" fill="#00a0e3"/>
<path d="M603.7 349.8 L615.7 349.8 L609.7 355.4 Z" fill="#00a0e3"/>
<text x="608.3000000000001" y="344" font-family="Liberation Sans" font-size="17" fill="#fff" text-anchor="middle" font-weight="bold" textLength="54.5" lengthAdjust="spacingAndGlyphs">Activity</text>
<text x="609.7" y="364.6" font-family="Liberation Sans" font-size="9" fill="#1a72c0" text-anchor="middle" font-style="italic" textLength="59.5" lengthAdjust="spacingAndGlyphs" stroke="#1a72c0" stroke-width="0.2">Total minutes:</text>
<rect x="564.4000000000001" y="371.8" width="90.8" height="21.6" fill="#fff" stroke="#6e6e6e" stroke-width="1.2"/>
<text x="556.7" y="409" font-family="Liberation Sans" font-size="10.2" fill="#1f78c1" text-anchor="start" textLength="76.3" lengthAdjust="spacingAndGlyphs" stroke="#1f78c1" stroke-width="0.2">Aerobic exercise</text>
<text x="654.2" y="409" font-family="Liberation Sans" font-size="6.4" fill="#1f78c1" text-anchor="start" textLength="13.8" lengthAdjust="spacingAndGlyphs">mins</text>
<line x1="544" y1="414.5" x2="675" y2="414.5" stroke="#9a9a9a" stroke-width="0.8"/>
<line x1="544" y1="437.2" x2="675" y2="437.2" stroke="#5f5f5f" stroke-width="0.9"/>
<line x1="645.3000000000001" y1="414.5" x2="645.3000000000001" y2="437.2" stroke="#5f5f5f" stroke-width="0.9"/>
<rect x="590.1" y="442.5" width="16.2" height="16.2" fill="#fff" stroke="#7a7a7a" stroke-width="0.9"/>
<rect x="615.1" y="442.5" width="16.2" height="16.2" fill="#fff" stroke="#7a7a7a" stroke-width="0.9"/>
<use href="#tick" transform="translate(589.95 443.25) scale(0.42)"/>
<use href="#cross" transform="translate(614.45 442.95) scale(0.43)"/>
<text x="556.7" y="475.3" font-family="Liberation Sans" font-size="10.2" fill="#1f78c1" text-anchor="start" textLength="81" lengthAdjust="spacingAndGlyphs" stroke="#1f78c1" stroke-width="0.2">Strength exercise</text>
<text x="654.2" y="475.3" font-family="Liberation Sans" font-size="6.4" fill="#1f78c1" text-anchor="start" textLength="13.8" lengthAdjust="spacingAndGlyphs">mins</text>
<line x1="544" y1="481.5" x2="675" y2="481.5" stroke="#5f5f5f" stroke-width="0.8"/>
<line x1="544" y1="504.3" x2="675" y2="504.3" stroke="#5f5f5f" stroke-width="0.9"/>
<line x1="645.3000000000001" y1="481.5" x2="645.3000000000001" y2="504.3" stroke="#9a9a9a" stroke-width="0.9"/>
<rect x="590.1" y="508.5" width="16.2" height="16.2" fill="#fff" stroke="#7a7a7a" stroke-width="0.9"/>
<rect x="615.1" y="508.5" width="16.2" height="16.2" fill="#fff" stroke="#7a7a7a" stroke-width="0.9"/>
<use href="#tick" transform="translate(589.95 509.25) scale(0.42)"/>
<use href="#cross" transform="translate(614.45 508.95) scale(0.43)"/>
<rect x="678" y="112" width="135" height="419" fill="#e3e3e3"/>
<text x="745.2" y="80.9" font-family="Liberation Serif" font-size="20" fill="#1874c4" text-anchor="middle" font-weight="bold" textLength="33" lengthAdjust="spacingAndGlyphs" stroke="#1874c4" stroke-width="0.7">Sat</text>
<rect x="678" y="89" width="135" height="23" fill="#65c12f"/>
<path d="M739.7 111.8 L751.7 111.8 L745.7 118 Z" fill="#65c12f"/>
<text x="745.4000000000001" y="106" font-family="Liberation Sans" font-size="16.8" fill="#fff" text-anchor="middle" font-weight="bold" textLength="34" lengthAdjust="spacingAndGlyphs">Food</text>
<text x="745.7" y="127" font-family="Liberation Sans" font-size="9" fill="#1a72c0" text-anchor="middle" font-style="italic" textLength="57" lengthAdjust="spacingAndGlyphs" stroke="#1a72c0" stroke-width="0.2">Total calories:</text>
<rect x="701.0" y="133.5" width="90.3" height="22.3" fill="#fff" stroke="#6e6e6e" stroke-width="1.1"/>
<rect x="701.0" y="164.5" width="36.3" height="34.3" fill="#fff" stroke="#6e6e6e" stroke-width="1.1"/>
<rect x="754.2" y="164.5" width="37.1" height="34.3" fill="#fff" stroke="#6e6e6e" stroke-width="1.1"/>
<use href="#tick" transform="translate(700.5 164) scale(1)"/>
<use href="#cross" transform="translate(753.7 164) scale(1)"/>
<text x="745.7" y="216" font-family="Liberation Sans" font-size="9" fill="#1f78c1" text-anchor="middle" textLength="25" lengthAdjust="spacingAndGlyphs">Oops!</text>
<text x="745.7" y="225.6" font-family="Liberation Sans" font-size="7.3" fill="#3b87c9" text-anchor="middle" font-style="italic" textLength="93" lengthAdjust="spacingAndGlyphs">Unplanned snacks or drinks</text>
<line x1="678" y1="231.4" x2="813" y2="231.4" stroke="#5f5f5f" stroke-width="0.9"/>
<line x1="678" y1="254.4" x2="813" y2="254.4" stroke="#5f5f5f" stroke-width="0.9"/>
<line x1="678" y1="277.3" x2="813" y2="277.3" stroke="#5f5f5f" stroke-width="0.9"/>
<text x="745.7" y="292.9" font-family="Liberation Sans" font-size="10.8" fill="#1b72c0" text-anchor="middle" font-weight="bold" textLength="65.5" lengthAdjust="spacingAndGlyphs">Your 5 a day</text>
<rect x="688.0500000000001" y="301.5" width="16.2" height="16.2" fill="#fff" stroke="#7a7a7a" stroke-width="0.9"/>
<use href="#tick" transform="translate(688.2000000000002 302.35) scale(0.42)"/>
<rect x="713.0500000000001" y="301.5" width="16.2" height="16.2" fill="#fff" stroke="#7a7a7a" stroke-width="0.9"/>
<use href="#tick" transform="translate(713.2000000000002 302.35) scale(0.42)"/>
<rect x="738.0500000000001" y="301.5" width="16.2" height="16.2" fill="#fff" stroke="#7a7a7a" stroke-width="0.9"/>
<use href="#tick" transform="translate(738.2000000000002 302.35) scale(0.42)"/>
<rect x="763.0" y="301.5" width="16.2" height="16.2" fill="#fff" stroke="#7a7a7a" stroke-width="0.9"/>
<use href="#tick" transform="translate(763.1500000000001 302.35) scale(0.42)"/>
<rect x="787.0500000000001" y="301.5" width="16.2" height="16.2" fill="#fff" stroke="#7a7a7a" stroke-width="0.9"/>
<use href="#tick" transform="translate(787.2000000000002 302.35) scale(0.42)"/>
<rect x="678" y="327" width="135" height="23" fill="#00a0e3"/>
<path d="M739.7 349.8 L751.7 349.8 L745.7 355.4 Z" fill="#00a0e3"/>
<text x="744.3000000000001" y="344" font-family="Liberation Sans" font-size="17" fill="#fff" text-anchor="middle" font-weight="bold" textLength="54.5" lengthAdjust="spacingAndGlyphs">Activity</text>
<text x="745.7" y="364.6" font-family="Liberation Sans" font-size="9" fill="#1a72c0" text-anchor="middle" font-style="italic" textLength="59.5" lengthAdjust="spacingAndGlyphs" stroke="#1a72c0" stroke-width="0.2">Total minutes:</text>
<rect x="700.4000000000001" y="371.8" width="90.8" height="21.6" fill="#fff" stroke="#6e6e6e" stroke-width="1.2"/>
<text x="692.7" y="409" font-family="Liberation Sans" font-size="10.2" fill="#1f78c1" text-anchor="start" textLength="76.3" lengthAdjust="spacingAndGlyphs" stroke="#1f78c1" stroke-width="0.2">Aerobic exercise</text>
<text x="790.2" y="409" font-family="Liberation Sans" font-size="6.4" fill="#1f78c1" text-anchor="start" textLength="13.8" lengthAdjust="spacingAndGlyphs">mins</text>
<line x1="678" y1="414.5" x2="813" y2="414.5" stroke="#9a9a9a" stroke-width="0.8"/>
<line x1="678" y1="437.2" x2="813" y2="437.2" stroke="#5f5f5f" stroke-width="0.9"/>
<line x1="781.3000000000001" y1="414.5" x2="781.3000000000001" y2="437.2" stroke="#5f5f5f" stroke-width="0.9"/>
<rect x="726.1" y="442.5" width="16.2" height="16.2" fill="#fff" stroke="#7a7a7a" stroke-width="0.9"/>
<rect x="751.1" y="442.5" width="16.2" height="16.2" fill="#fff" stroke="#7a7a7a" stroke-width="0.9"/>
<use href="#tick" transform="translate(725.95 443.25) scale(0.42)"/>
<use href="#cross" transform="translate(750.45 442.95) scale(0.43)"/>
<text x="692.7" y="475.3" font-family="Liberation Sans" font-size="10.2" fill="#1f78c1" text-anchor="start" textLength="81" lengthAdjust="spacingAndGlyphs" stroke="#1f78c1" stroke-width="0.2">Strength exercise</text>
<text x="790.2" y="475.3" font-family="Liberation Sans" font-size="6.4" fill="#1f78c1" text-anchor="start" textLength="13.8" lengthAdjust="spacingAndGlyphs">mins</text>
<line x1="678" y1="481.5" x2="813" y2="481.5" stroke="#5f5f5f" stroke-width="0.8"/>
<line x1="678" y1="504.3" x2="813" y2="504.3" stroke="#5f5f5f" stroke-width="0.9"/>
<line x1="781.3000000000001" y1="481.5" x2="781.3000000000001" y2="504.3" stroke="#9a9a9a" stroke-width="0.9"/>
<rect x="726.1" y="508.5" width="16.2" height="16.2" fill="#fff" stroke="#7a7a7a" stroke-width="0.9"/>
<rect x="751.1" y="508.5" width="16.2" height="16.2" fill="#fff" stroke="#7a7a7a" stroke-width="0.9"/>
<use href="#tick" transform="translate(725.95 509.25) scale(0.42)"/>
<use href="#cross" transform="translate(750.45 508.95) scale(0.43)"/>
<text x="881" y="80.9" font-family="Liberation Serif" font-size="20" fill="#1874c4" text-anchor="middle" font-weight="bold" textLength="39.2" lengthAdjust="spacingAndGlyphs" stroke="#1874c4" stroke-width="0.7">Sun</text>
<rect x="815" y="89" width="132" height="23" fill="#65c12f"/>
<path d="M875 111.8 L887 111.8 L881 118 Z" fill="#65c12f"/>
<text x="880.7" y="106" font-family="Liberation Sans" font-size="16.8" fill="#fff" text-anchor="middle" font-weight="bold" textLength="34" lengthAdjust="spacingAndGlyphs">Food</text>
<text x="881" y="127" font-family="Liberation Sans" font-size="9" fill="#1a72c0" text-anchor="middle" font-style="italic" textLength="57" lengthAdjust="spacingAndGlyphs" stroke="#1a72c0" stroke-width="0.2">Total calories:</text>
<rect x="836.3" y="133.5" width="90.3" height="22.3" fill="#fff" stroke="#6e6e6e" stroke-width="1.1"/>
<rect x="836.3" y="164.5" width="36.3" height="34.3" fill="#fff" stroke="#6e6e6e" stroke-width="1.1"/>
<rect x="889.5" y="164.5" width="37.1" height="34.3" fill="#fff" stroke="#6e6e6e" stroke-width="1.1"/>
<use href="#tick" transform="translate(835.8 164) scale(1)"/>
<use href="#cross" transform="translate(889 164) scale(1)"/>
<text x="881" y="216" font-family="Liberation Sans" font-size="9" fill="#1f78c1" text-anchor="middle" textLength="25" lengthAdjust="spacingAndGlyphs">Oops!</text>
<text x="881" y="225.6" font-family="Liberation Sans" font-size="7.3" fill="#3b87c9" text-anchor="middle" font-style="italic" textLength="93" lengthAdjust="spacingAndGlyphs">Unplanned snacks or drinks</text>
<line x1="815" y1="231.4" x2="947" y2="231.4" stroke="#5f5f5f" stroke-width="0.9"/>
<line x1="815" y1="254.4" x2="947" y2="254.4" stroke="#5f5f5f" stroke-width="0.9"/>
<line x1="815" y1="277.3" x2="947" y2="277.3" stroke="#5f5f5f" stroke-width="0.9"/>
<text x="881" y="292.9" font-family="Liberation Sans" font-size="10.8" fill="#1b72c0" text-anchor="middle" font-weight="bold" textLength="65.5" lengthAdjust="spacingAndGlyphs">Your 5 a day</text>
<rect x="823.35" y="301.5" width="16.2" height="16.2" fill="#fff" stroke="#7a7a7a" stroke-width="0.9"/>
<use href="#tick" transform="translate(823.5000000000001 302.35) scale(0.42)"/>
<rect x="848.35" y="301.5" width="16.2" height="16.2" fill="#fff" stroke="#7a7a7a" stroke-width="0.9"/>
<use href="#tick" transform="translate(848.5000000000001 302.35) scale(0.42)"/>
<rect x="873.35" y="301.5" width="16.2" height="16.2" fill="#fff" stroke="#7a7a7a" stroke-width="0.9"/>
<use href="#tick" transform="translate(873.5000000000001 302.35) scale(0.42)"/>
<rect x="898.3" y="301.5" width="16.2" height="16.2" fill="#fff" stroke="#7a7a7a" stroke-width="0.9"/>
<use href="#tick" transform="translate(898.45 302.35) scale(0.42)"/>
<rect x="922.35" y="301.5" width="16.2" height="16.2" fill="#fff" stroke="#7a7a7a" stroke-width="0.9"/>
<use href="#tick" transform="translate(922.5000000000001 302.35) scale(0.42)"/>
<rect x="815" y="327" width="132" height="23" fill="#00a0e3"/>
<path d="M875 349.8 L887 349.8 L881 355.4 Z" fill="#00a0e3"/>
<text x="879.6" y="344" font-family="Liberation Sans" font-size="17" fill="#fff" text-anchor="middle" font-weight="bold" textLength="54.5" lengthAdjust="spacingAndGlyphs">Activity</text>
<text x="881" y="364.6" font-family="Liberation Sans" font-size="9" fill="#1a72c0" text-anchor="middle" font-style="italic" textLength="59.5" lengthAdjust="spacingAndGlyphs" stroke="#1a72c0" stroke-width="0.2">Total minutes:</text>
<rect x="835.7" y="371.8" width="90.8" height="21.6" fill="#fff" stroke="#6e6e6e" stroke-width="1.2"/>
<text x="828" y="409" font-family="Liberation Sans" font-size="10.2" fill="#1f78c1" text-anchor="start" textLength="76.3" lengthAdjust="spacingAndGlyphs" stroke="#1f78c1" stroke-width="0.2">Aerobic exercise</text>
<text x="925.5" y="409" font-family="Liberation Sans" font-size="6.4" fill="#1f78c1" text-anchor="start" textLength="13.8" lengthAdjust="spacingAndGlyphs">mins</text>
<line x1="815" y1="414.5" x2="947" y2="414.5" stroke="#9a9a9a" stroke-width="0.8"/>
<line x1="815" y1="437.2" x2="947" y2="437.2" stroke="#5f5f5f" stroke-width="0.9"/>
<line x1="916.6" y1="414.5" x2="916.6" y2="437.2" stroke="#5f5f5f" stroke-width="0.9"/>
<rect x="861.4" y="442.5" width="16.2" height="16.2" fill="#fff" stroke="#7a7a7a" stroke-width="0.9"/>
<rect x="886.4" y="442.5" width="16.2" height="16.2" fill="#fff" stroke="#7a7a7a" stroke-width="0.9"/>
<use href="#tick" transform="translate(861.25 443.25) scale(0.42)"/>
<use href="#cross" transform="translate(885.75 442.95) scale(0.43)"/>
<text x="828" y="475.3" font-family="Liberation Sans" font-size="10.2" fill="#1f78c1" text-anchor="start" textLength="81" lengthAdjust="spacingAndGlyphs" stroke="#1f78c1" stroke-width="0.2">Strength exercise</text>
<text x="925.5" y="475.3" font-family="Liberation Sans" font-size="6.4" fill="#1f78c1" text-anchor="start" textLength="13.8" lengthAdjust="spacingAndGlyphs">mins</text>
<line x1="815" y1="481.5" x2="947" y2="481.5" stroke="#5f5f5f" stroke-width="0.8"/>
<line x1="815" y1="504.3" x2="947" y2="504.3" stroke="#5f5f5f" stroke-width="0.9"/>
<line x1="916.6" y1="481.5" x2="916.6" y2="504.3" stroke="#9a9a9a" stroke-width="0.9"/>
<rect x="861.4" y="508.5" width="16.2" height="16.2" fill="#fff" stroke="#7a7a7a" stroke-width="0.9"/>
<rect x="886.4" y="508.5" width="16.2" height="16.2" fill="#fff" stroke="#7a7a7a" stroke-width="0.9"/>
<use href="#tick" transform="translate(861.25 509.25) scale(0.42)"/>
<use href="#cross" transform="translate(885.75 508.95) scale(0.43)"/>
<line x1="0" y1="531.4" x2="950" y2="531.4" stroke="#6a6a6a" stroke-width="1"/>
<text x="404.3" y="551" font-family="Liberation Serif" font-size="16" fill="#ec008c" text-anchor="start" font-weight="bold" textLength="58" lengthAdjust="spacingAndGlyphs" stroke="#ec008c" stroke-width="0.45">Weekly</text>
<text x="467" y="551" font-family="Liberation Serif" font-size="16" fill="#ec008c" text-anchor="start" font-weight="bold" textLength="76.6" lengthAdjust="spacingAndGlyphs" stroke="#ec008c" stroke-width="0.45">summary</text>
<path fill="#ec008c" d="M126 600.9 L798.6 600.9 L798.6 596 L822 609 L798.6 622.2 L798.6 616.8 L126 616.8 Z"/>
<text x="224.6" y="610.7" font-family="Liberation Sans" font-size="9.1" fill="#fff" text-anchor="start" textLength="100.8" lengthAdjust="spacingAndGlyphs" stroke="#fff" stroke-width="0.15">Your weight loss tracker -</text>
<text x="327.7" y="610.7" font-family="Liberation Sans" font-size="9.1" fill="#fff" text-anchor="start" textLength="144.3" lengthAdjust="spacingAndGlyphs" stroke="#fff" stroke-width="0.15">Record your weight and waist size</text>
<text x="474.2" y="610.7" font-family="Liberation Sans" font-size="9.1" fill="#fff" text-anchor="start" textLength="248.4" lengthAdjust="spacingAndGlyphs" stroke="#fff" stroke-width="0.15">at the start and end of each week to help you stay on track</text>
<rect x="8.7" y="549.2" width="116.8" height="102.6" fill="#fff" stroke="#ec008c" stroke-width="2.4" rx="8.5"/>
<line x1="9.7" y1="571.7" x2="124.5" y2="571.7" stroke="#4a90d9" stroke-width="0.8"/>
<line x1="9.7" y1="588.4" x2="124.5" y2="588.4" stroke="#4a90d9" stroke-width="0.8"/>
<line x1="77.3" y1="571.7" x2="77.3" y2="651" stroke="#4a90d9" stroke-width="0.8"/>
<text x="65.6" y="562.9" font-family="Liberation Sans" font-size="11.2" fill="#1b72c0" text-anchor="middle" font-weight="bold" textLength="92.5" lengthAdjust="spacingAndGlyphs">Start of the week</text>
<text x="43.900000000000006" y="582.9" font-family="Liberation Sans" font-size="8.3" fill="#1f78c1" text-anchor="middle" textLength="26.5" lengthAdjust="spacingAndGlyphs">Weight</text>
<text x="100.7" y="582.9" font-family="Liberation Sans" font-size="8.3" fill="#1f78c1" text-anchor="middle" textLength="20.6" lengthAdjust="spacingAndGlyphs">Waist</text>
<text x="42.7" y="642.6" font-family="Liberation Sans" font-size="7.4" fill="#1f78c1" text-anchor="middle" textLength="19.4" lengthAdjust="spacingAndGlyphs">kg/lbs</text>
<text x="101.3" y="642.6" font-family="Liberation Sans" font-size="7.4" fill="#1f78c1" text-anchor="middle" textLength="21.2" lengthAdjust="spacingAndGlyphs">cms/in</text>
<rect x="823" y="549.2" width="116.8" height="102.6" fill="#fff" stroke="#ec008c" stroke-width="2.4" rx="8.5"/>
<line x1="824" y1="571.7" x2="938.8" y2="571.7" stroke="#4a90d9" stroke-width="0.8"/>
<line x1="824" y1="588.4" x2="938.8" y2="588.4" stroke="#4a90d9" stroke-width="0.8"/>
<line x1="891.6" y1="571.7" x2="891.6" y2="651" stroke="#4a90d9" stroke-width="0.8"/>
<text x="883.3" y="562.9" font-family="Liberation Sans" font-size="11.2" fill="#1b72c0" text-anchor="middle" font-weight="bold" textLength="87" lengthAdjust="spacingAndGlyphs">End of the week</text>
<text x="858.2" y="582.9" font-family="Liberation Sans" font-size="8.3" fill="#1f78c1" text-anchor="middle" textLength="26.5" lengthAdjust="spacingAndGlyphs">Weight</text>
<text x="915" y="582.9" font-family="Liberation Sans" font-size="8.3" fill="#1f78c1" text-anchor="middle" textLength="20.6" lengthAdjust="spacingAndGlyphs">Waist</text>
<text x="857" y="642.6" font-family="Liberation Sans" font-size="7.4" fill="#1f78c1" text-anchor="middle" textLength="19.4" lengthAdjust="spacingAndGlyphs">kg/lbs</text>
<text x="915.6" y="642.6" font-family="Liberation Sans" font-size="7.4" fill="#1f78c1" text-anchor="middle" textLength="21.2" lengthAdjust="spacingAndGlyphs">cms/in</text>
<use href="#runner" color="#ec008c" transform="translate(-638.7 538.45)"/>
<g fill="none" stroke="#ec008c" stroke-linecap="round" stroke-linejoin="round"><circle cx="274.9" cy="634.9" r="2.9" fill="#ec008c" stroke="none"/><path d="M268 634 L267.1 639.5 L282.7 639.5 L281.9 634" stroke-width="2.9"/><path d="M275 639 L275 649" stroke-width="5.9" stroke-linecap="butt"/><path d="M273.7 648 L270.6 660.2 M276.3 648 L279.5 660.2" stroke-width="3.1"/></g>
<text x="225.4" y="583" font-family="Liberation Sans" font-size="9.3" fill="#1a6fc0" text-anchor="start" font-style="italic" textLength="66.8" lengthAdjust="spacingAndGlyphs" stroke="#1a6fc0" stroke-width="0.15">Aerobic exercise:</text>
<text x="285" y="656" font-family="Liberation Sans" font-size="9.3" fill="#1a6fc0" text-anchor="start" font-style="italic" textLength="70.5" lengthAdjust="spacingAndGlyphs" stroke="#1a6fc0" stroke-width="0.15">Strength exercise:</text>
<text x="464.6" y="630.6" font-family="Liberation Sans" font-size="8.6" fill="#3b87c9" text-anchor="middle" font-style="italic" textLength="130" lengthAdjust="spacingAndGlyphs">1 session on 2 or more days a week</text>
<rect x="301.5" y="573.5" width="15" height="16" fill="#f0f4fc" stroke="#1a6fc0" stroke-width="1"/>
<text x="297" y="567.7" font-family="Liberation Sans" font-size="7.4" fill="#3d8acd" text-anchor="start" textLength="24.19999999999999" lengthAdjust="spacingAndGlyphs">10 mins</text>
<rect x="357.5" y="573.5" width="16" height="16" fill="#f0f4fc" stroke="#1a6fc0" stroke-width="1"/>
<text x="353.7" y="567.7" font-family="Liberation Sans" font-size="7.4" fill="#3d8acd" text-anchor="start" textLength="25.30000000000001" lengthAdjust="spacingAndGlyphs">30 mins</text>
<rect x="439.5" y="573.5" width="16" height="16" fill="#f0f4fc" stroke="#1a6fc0" stroke-width="1"/>
<text x="434.9" y="567.7" font-family="Liberation Sans" font-size="7.4" fill="#3d8acd" text-anchor="start" textLength="25.5" lengthAdjust="spacingAndGlyphs">60 mins</text>
<rect x="520.5" y="574.5" width="16" height="16" fill="#f0f4fc" stroke="#1a6fc0" stroke-width="1"/>
<text x="514.9" y="567.7" font-family="Liberation Sans" font-size="7.4" fill="#3d8acd" text-anchor="start" textLength="25.300000000000068" lengthAdjust="spacingAndGlyphs">90 mins</text>
<rect x="603.5" y="575.5" width="16" height="15" fill="#f0f4fc" stroke="#1a6fc0" stroke-width="1"/>
<text x="596.9" y="567.7" font-family="Liberation Sans" font-size="7.4" fill="#3d8acd" text-anchor="start" textLength="29.100000000000023" lengthAdjust="spacingAndGlyphs">120 mins</text>
<rect x="685.5" y="574.5" width="16" height="16" fill="#f0f4fc" stroke="#1a6fc0" stroke-width="1"/>
<rect x="685" y="574" width="17" height="2" fill="#1a6fc0"/>
<text x="675.4" y="567.7" font-family="Liberation Sans" font-size="7.4" fill="#1a68ba" text-anchor="start" font-weight="bold" textLength="37.0" lengthAdjust="spacingAndGlyphs">150 mins +</text>
<rect x="332.5" y="576.5" width="9" height="9" fill="#f0f4fc" stroke="#1a6fc0" stroke-width="1"/>
<rect x="388.5" y="576.5" width="10" height="10" fill="#f0f4fc" stroke="#1a6fc0" stroke-width="1"/>
<rect x="413.5" y="576.5" width="10" height="10" fill="#f0f4fc" stroke="#1a6fc0" stroke-width="1"/>
<rect x="470.5" y="577.5" width="9" height="9" fill="#f0f4fc" stroke="#1a6fc0" stroke-width="1"/>
<rect x="495.5" y="577.5" width="9" height="10" fill="#f0f4fc" stroke="#1a6fc0" stroke-width="1"/>
<rect x="552.5" y="578.5" width="10" height="9" fill="#f0f4fc" stroke="#1a6fc0" stroke-width="1"/>
<rect x="577.5" y="578.5" width="10" height="9" fill="#f0f4fc" stroke="#1a6fc0" stroke-width="1"/>
<rect x="635.5" y="578.5" width="9" height="9" fill="#f0f4fc" stroke="#1a6fc0" stroke-width="1"/>
<rect x="660.5" y="578.5" width="9" height="9" fill="#f0f4fc" stroke="#1a6fc0" stroke-width="1"/>
<rect x="362.5" y="646.5" width="16" height="16" fill="#f0f4fc" stroke="#1a6fc0" stroke-width="1"/>
<text x="363.8" y="643.8" font-family="Liberation Sans" font-size="7" fill="#3d8acd" text-anchor="start" textLength="13.300000000000011" lengthAdjust="spacingAndGlyphs">mon</text>
<rect x="394.5" y="646.5" width="16" height="16" fill="#f0f4fc" stroke="#1a6fc0" stroke-width="1"/>
<text x="396.7" y="643.8" font-family="Liberation Sans" font-size="7" fill="#3d8acd" text-anchor="start" textLength="11.300000000000011" lengthAdjust="spacingAndGlyphs">tues</text>
<rect x="426.5" y="647.5" width="16" height="15" fill="#f0f4fc" stroke="#1a6fc0" stroke-width="1"/>
<text x="428.3" y="643.8" font-family="Liberation Sans" font-size="7" fill="#3d8acd" text-anchor="start" textLength="12.0" lengthAdjust="spacingAndGlyphs">wed</text>
<rect x="458.5" y="647.5" width="16" height="15" fill="#f0f4fc" stroke="#1a6fc0" stroke-width="1"/>
<text x="458.8" y="643.8" font-family="Liberation Sans" font-size="7" fill="#3d8acd" text-anchor="start" textLength="14.5" lengthAdjust="spacingAndGlyphs">thurs</text>
<rect x="490.5" y="646.5" width="16" height="16" fill="#f0f4fc" stroke="#1a6fc0" stroke-width="1"/>
<text x="494.8" y="643.8" font-family="Liberation Sans" font-size="7" fill="#3d8acd" text-anchor="start" textLength="6.300000000000011" lengthAdjust="spacingAndGlyphs">fri</text>
<rect x="522.5" y="646.5" width="16" height="16" fill="#f0f4fc" stroke="#1a6fc0" stroke-width="1"/>
<text x="526" y="643.8" font-family="Liberation Sans" font-size="7" fill="#3d8acd" text-anchor="start" textLength="8" lengthAdjust="spacingAndGlyphs">sat</text>
<rect x="554.5" y="646.5" width="15" height="16" fill="#f0f4fc" stroke="#1a6fc0" stroke-width="1"/>
<text x="557" y="643.8" font-family="Liberation Sans" font-size="7" fill="#3d8acd" text-anchor="start" textLength="9.799999999999955" lengthAdjust="spacingAndGlyphs">sun</text>
</svg>
</body>
</html>
